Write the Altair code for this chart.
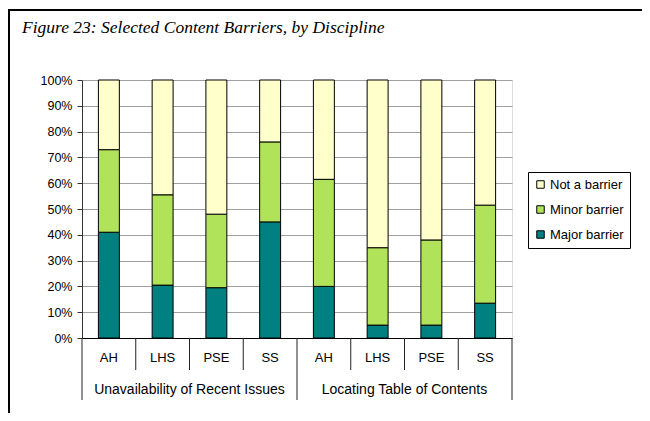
import altair as alt
import pandas as pd

groups = ["Unavailability of Recent Issues"] * 4 + ["Locating Table of Contents"] * 4
cats = ["AH", "LHS", "PSE", "SS"] * 2
major = [41, 20.5, 19.5, 45, 20, 5, 5, 13.5]
minor = [32, 35, 28.5, 31, 41.5, 30, 33, 38]
notb = [27, 44.5, 52, 24, 38.5, 65, 62, 48.5]
series = ["Not a barrier", "Minor barrier", "Major barrier"]
colors = ["#ffffcc", "#b0e35a", "#008080"]
title_text = "Figure 23: Selected Content Barriers, by Discipline"

keys = [f"{g}|{c}" for g, c in zip(groups, cats)]
rows = []
for k, g, c, a, b, n in zip(keys, groups, cats, major, minor, notb):
    rows.append({"key": k, "group": g, "cat": c, "series": "Major barrier", "ord": 0, "v": a})
    rows.append({"key": k, "group": g, "cat": c, "series": "Minor barrier", "ord": 1, "v": b})
    rows.append({"key": k, "group": g, "cat": c, "series": "Not a barrier", "ord": 2, "v": n})
df = pd.DataFrame(rows)

W, H = 430, 258
FONT = "Liberation Sans"

xscale = alt.Scale(domain=keys, paddingInner=0, paddingOuter=0)

bars = alt.Chart(df).mark_bar(
    width=alt.RelativeBandSize(0.39), stroke="black", strokeWidth=1
).encode(
    x=alt.X("key:N", scale=xscale, sort=keys,
            axis=alt.Axis(labels=False, ticks=False, title=None, domainColor="black",
                          domainWidth=1, grid=False)),
    y=alt.Y("v:Q", stack="normalize",
            scale=alt.Scale(domain=[0, 1]),
            axis=alt.Axis(format=".0%", values=[i / 10 for i in range(11)], title=None,
                          labelFont=FONT, labelFontSize=12.5, labelColor="black",
                          tickSize=5, tickColor="#333", domainColor="#333",
                          gridColor="#a0a0a0", gridWidth=1, labelPadding=5)),
    color=alt.Color("series:N", scale=alt.Scale(domain=series, range=colors),
                    legend=alt.Legend(orient="none", legendX=446, legendY=92, title=None,
                                      strokeColor="black", fillColor="white", padding=6,
                                      symbolType="square", symbolSize=56,
                                      symbolStrokeColor="black", symbolStrokeWidth=1,
                                      labelFont=FONT, labelFontSize=13, labelColor="black",
                                      rowPadding=11, labelOffset=3)),
    order=alt.Order("ord:Q"),
)

lab_df = pd.DataFrame({"key": keys, "cat": cats})
cat_labels = alt.Chart(lab_df).mark_text(font=FONT, fontSize=13, baseline="middle", color="black").encode(
    x=alt.X("key:N", scale=xscale, sort=keys), y=alt.value(278), text="cat:N")

# group labels placed at boundary before 3rd category of each group
grp_df = pd.DataFrame({"key": [k for k, c in zip(keys, cats) if c == "PSE"],
                       "group": [g for g, c in zip(groups, cats) if c == "PSE"]})
grp_labels = alt.Chart(grp_df).mark_text(font=FONT, fontSize=14, baseline="middle", color="black").encode(
    x=alt.X("key:N", scale=xscale, sort=keys, bandPosition=0), y=alt.value(310), text="group:N")

sep_df = pd.DataFrame({"key": [k for k, c in zip(keys, cats) if c != "AH"]})
cat_sep = alt.Chart(sep_df).mark_rule(color="#222", strokeWidth=1).encode(
    x=alt.X("key:N", scale=xscale, sort=keys, bandPosition=0), y=alt.value(H), y2=alt.value(290))

gsep_df = pd.DataFrame({"key": [k for k, c in zip(keys, cats) if c == "AH"]})
grp_sep = alt.Chart(gsep_df).mark_rule(color="#222", strokeWidth=1).encode(
    x=alt.X("key:N", scale=xscale, sort=keys, bandPosition=0), y=alt.value(H), y2=alt.value(320))
gend_df = pd.DataFrame({"key": [keys[-1]]})
grp_end = alt.Chart(gend_df).mark_rule(color="#222", strokeWidth=1).encode(
    x=alt.X("key:N", scale=xscale, sort=keys, bandPosition=1), y=alt.value(H), y2=alt.value(320))

one = pd.DataFrame({"t": [title_text]})
title = alt.Chart(one).mark_text(align="left", baseline="alphabetic", font="Liberation Serif",
                                 fontStyle="italic", fontSize=17.5, color="black").encode(
    x=alt.value(-60), y=alt.value(-47), text="t:N")
frame_top = alt.Chart(one).mark_rule(color="black", strokeWidth=2).encode(
    x=alt.value(-74), x2=alt.value(560), y=alt.value(-70))
frame_left = alt.Chart(one).mark_rule(color="black", strokeWidth=2).encode(
    x=alt.value(-73), y=alt.value(-71), y2=alt.value(333))

chart = alt.layer(bars, cat_sep, grp_sep, grp_end, cat_labels, grp_labels, title, frame_top, frame_left).properties(
    width=W, height=H,
    autosize=alt.AutoSizeParams(type="none"),
    padding={"left": 74, "top": 72, "right": 130, "bottom": 75},
).configure_view(stroke="#999", strokeWidth=1).configure(background="white")

chart.save("out.html", embed_options={"renderer": "svg", "actions": False})
